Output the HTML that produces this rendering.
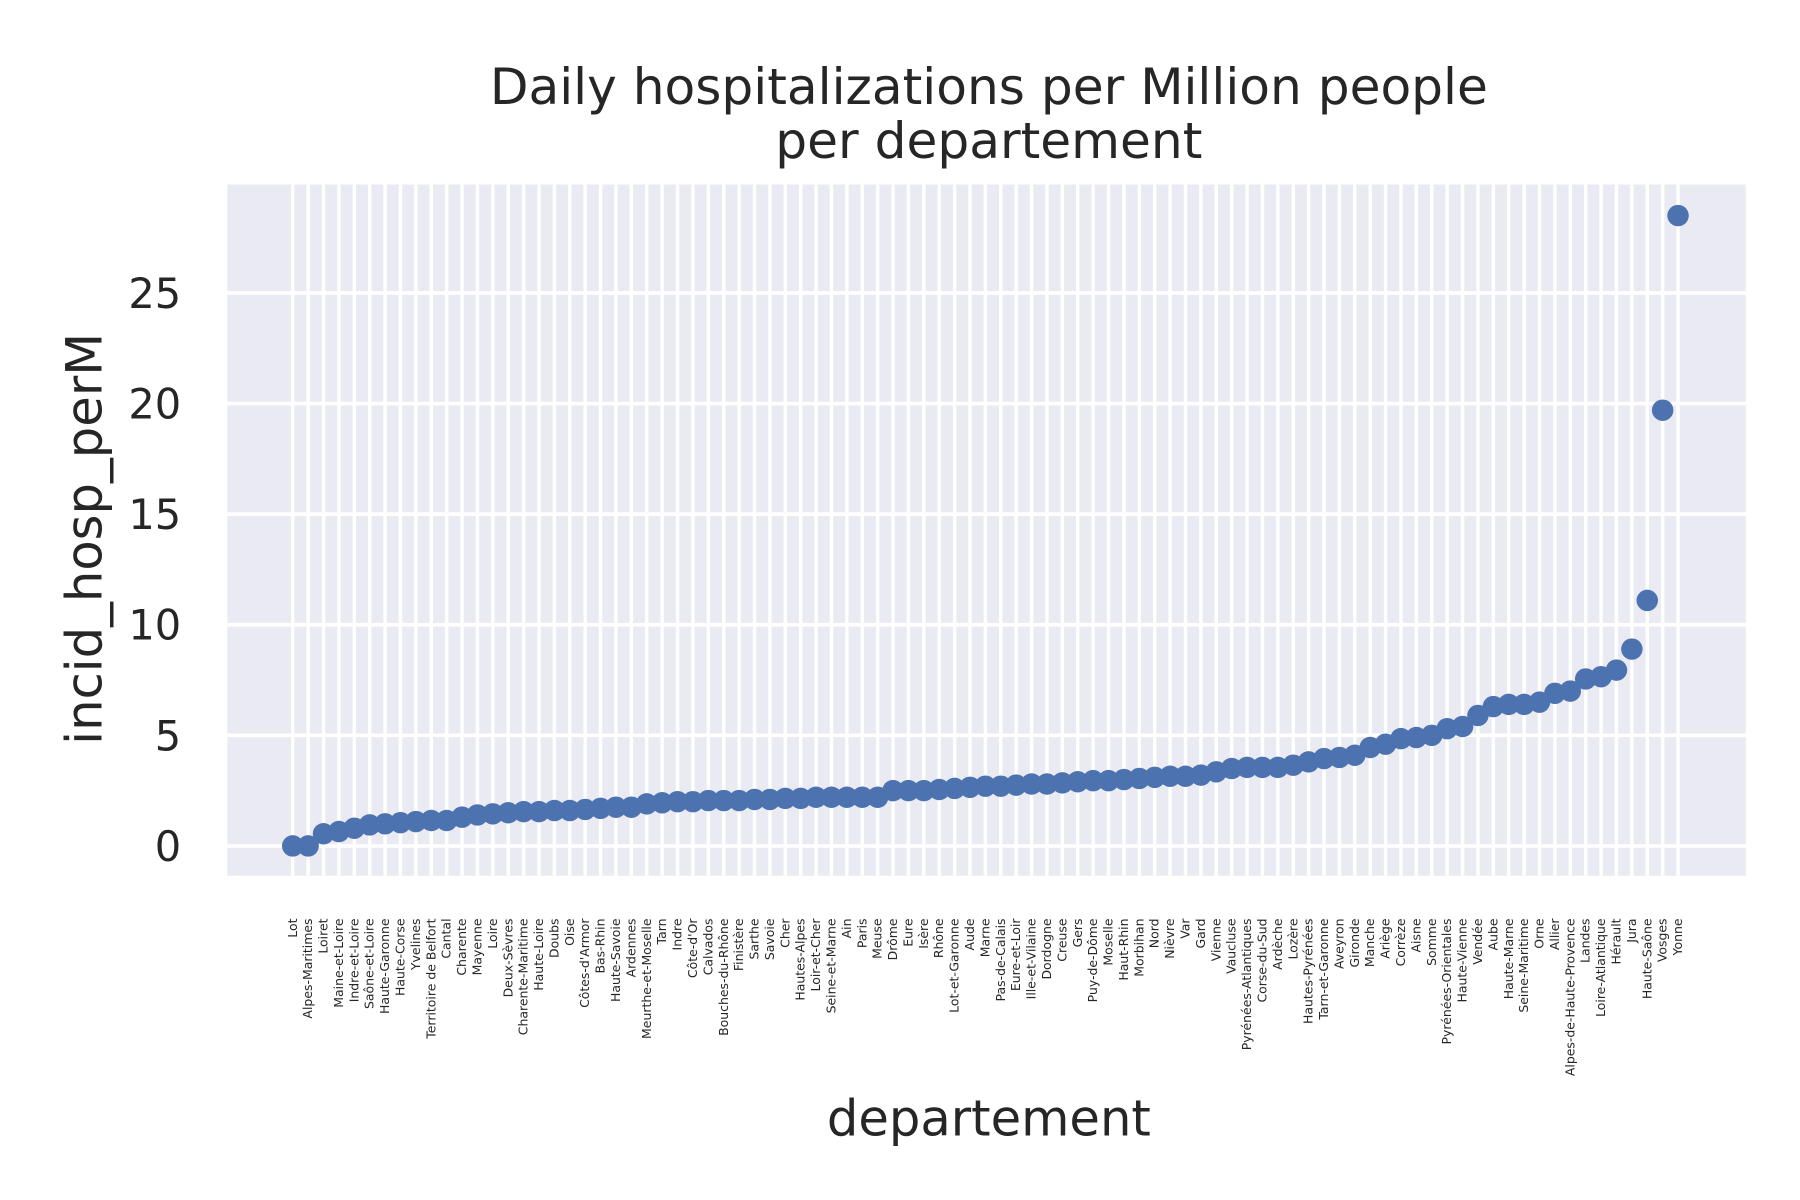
<!DOCTYPE html>
<html><head><meta charset="utf-8"><style>
html,body{margin:0;padding:0;background:#fff;}
svg{display:block;font-family:"DejaVu Sans","Liberation Sans",sans-serif;}
</style></head><body>
<svg id="chart" width="1800" height="1200" viewBox="0 0 1560 1040" xmlns="http://www.w3.org/2000/svg">
<rect x="0" y="0" width="1560" height="1040" fill="#ffffff"/>
<rect x="197" y="160" width="1316" height="599" fill="#eaeaf2"/>
<g id="grid"></g>
<g id="marks"></g>
<g id="yticks"></g>
<g id="xticks"></g>
<text x="857" y="90" text-anchor="middle" font-size="43.5" fill="#262626">Daily hospitalizations per Million people</text>
<text x="857" y="137" text-anchor="middle" font-size="43.5" fill="#262626">per departement</text>
<text transform="translate(88,467) rotate(-90)" text-anchor="middle" font-size="43" fill="#262626">incid_hosp_perM</text>
<text x="857" y="984" text-anchor="middle" font-size="43" fill="#262626">departement</text>
</svg>
<script>
const categories = ["Lot","Alpes-Maritimes","Loiret","Maine-et-Loire","Indre-et-Loire","Saône-et-Loire","Haute-Garonne","Haute-Corse","Yvelines","Territoire de Belfort","Cantal","Charente","Mayenne","Loire","Deux-Sèvres","Charente-Maritime","Haute-Loire","Doubs","Oise","Côtes-d'Armor","Bas-Rhin","Haute-Savoie","Ardennes","Meurthe-et-Moselle","Tarn","Indre","Côte-d'Or","Calvados","Bouches-du-Rhône","Finistère","Sarthe","Savoie","Cher","Hautes-Alpes","Loir-et-Cher","Seine-et-Marne","Ain","Paris","Meuse","Drôme","Eure","Isère","Rhône","Lot-et-Garonne","Aude","Marne","Pas-de-Calais","Eure-et-Loir","Ille-et-Vilaine","Dordogne","Creuse","Gers","Puy-de-Dôme","Moselle","Haut-Rhin","Morbihan","Nord","Nièvre","Var","Gard","Vienne","Vaucluse","Pyrénées-Atlantiques","Corse-du-Sud","Ardèche","Lozère","Hautes-Pyrénées","Tarn-et-Garonne","Aveyron","Gironde","Manche","Ariège","Corrèze","Aisne","Somme","Pyrénées-Orientales","Haute-Vienne","Vendée","Aube","Haute-Marne","Seine-Maritime","Orne","Allier","Alpes-de-Haute-Provence","Landes","Loire-Atlantique","Hérault","Jura","Haute-Saône","Vosges","Yonne"];
const values = [0,0,0.55,0.65,0.8,0.95,1.0,1.05,1.1,1.15,1.15,1.3,1.4,1.45,1.5,1.55,1.55,1.6,1.6,1.65,1.7,1.75,1.75,1.9,1.95,2.0,2.0,2.05,2.05,2.05,2.1,2.1,2.15,2.15,2.2,2.2,2.2,2.2,2.2,2.5,2.5,2.5,2.55,2.6,2.65,2.7,2.7,2.75,2.8,2.8,2.85,2.9,2.95,2.95,3.0,3.05,3.1,3.15,3.15,3.2,3.35,3.5,3.55,3.55,3.55,3.65,3.8,3.95,4.0,4.1,4.45,4.6,4.85,4.9,5.0,5.3,5.4,5.9,6.3,6.4,6.4,6.5,6.9,7.0,7.55,7.65,7.95,8.9,11.1,19.7,28.5];
const yTicks = [0,5,10,15,20,25];

const NS = "http://www.w3.org/2000/svg";
const L=197, R=1513, T=160, B=759;
const n = categories.length;
const xmin=-4.25, xmax=(n-1)+4.4;
const ymin=-1.35, ymax=29.9;
function xs(i){ return L + (i - xmin)/(xmax - xmin)*(R-L); }
function ys(v){ return B - (v - ymin)/(ymax - ymin)*(B-T); }
function mk(tag, attrs){ const e=document.createElementNS(NS,tag); for(const k in attrs) e.setAttribute(k, attrs[k]); return e; }

const grid=document.getElementById('grid');
categories.forEach((c,i)=>{
  const ln=mk('line',{x1:xs(i),x2:xs(i),y1:T,y2:B,stroke:'#fff','stroke-width':3});
  
  
  grid.appendChild(ln);
});
const yt=document.getElementById('yticks');
yTicks.forEach(v=>{
  const ln=mk('line',{x1:L,x2:R,y1:ys(v),y2:ys(v),stroke:'#fff','stroke-width':3.2});
  
  
  grid.appendChild(ln);
  const t=mk('text',{x:157,y:ys(v)+13,'text-anchor':'end','font-size':36,fill:'#262626'});
  t.textContent=v;
  
  
  yt.appendChild(t);
});
const marks=document.getElementById('marks');
values.forEach((v,i)=>{
  const c=mk('circle',{cx:xs(i),cy:ys(v),r:9.3,fill:'#4c72b0'});
  
  
  marks.appendChild(c);
});
const xt=document.getElementById('xticks');
categories.forEach((c,i)=>{
  const t=mk('text',{transform:'translate('+(xs(i)+3.5)+',796) rotate(-90)','text-anchor':'end','font-size':10.8,fill:'#262626'});
  t.textContent=c;
  
  
  xt.appendChild(t);
});
</script>
</body></html>
